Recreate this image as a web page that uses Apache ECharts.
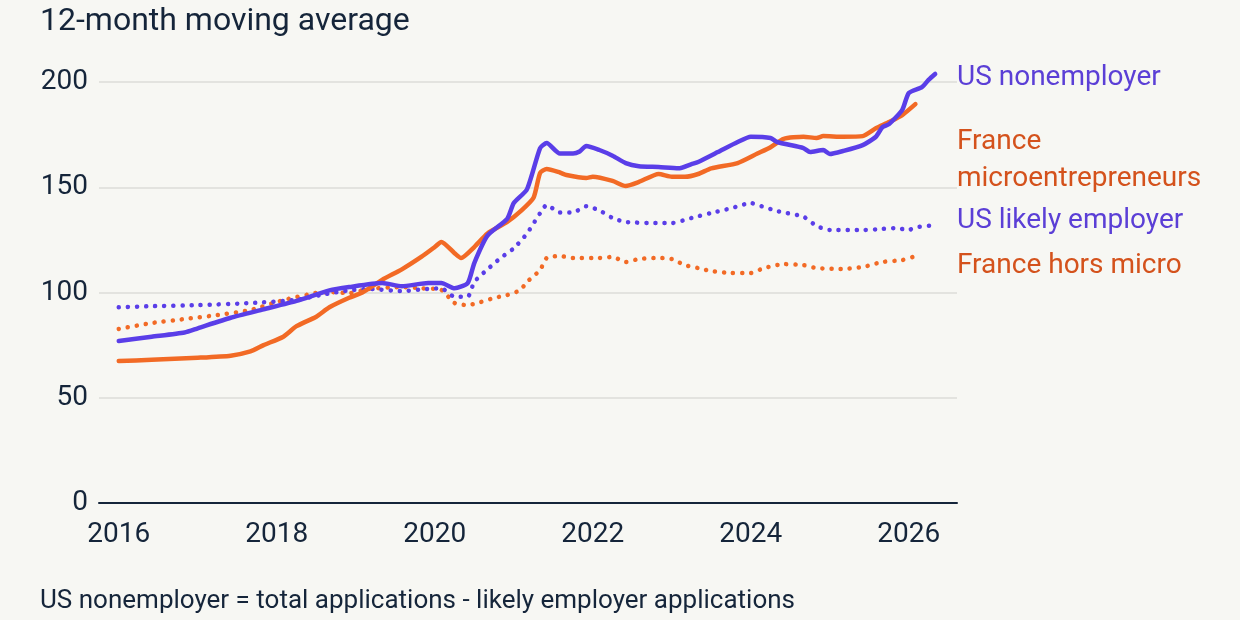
<!DOCTYPE html>
<html>
<head>
<meta charset="utf-8">
<script src="https://cdn.jsdelivr.net/npm/echarts@6/dist/echarts.min.js"></script>
<style>
  html, body { margin: 0; padding: 0; background: #f7f7f3; }
  #chart { width: 1240px; height: 620px; }
</style>
</head>
<body>
<div id="chart"></div>
<script>
// US nonemployer (solid purple)
var usNonDates = ['2016-01', '2016-06', '2016-11', '2017-01', '2017-06', '2017-11', '2018-04', '2018-09', '2018-12', '2019-05', '2019-08', '2019-12', '2020-02', '2020-04', '2020-06', '2020-07', '2020-09', '2020-12', '2021-01', '2021-03', '2021-05', '2021-06', '2021-08', '2021-10', '2021-11', '2021-12', '2022-02', '2022-04', '2022-06', '2022-08', '2022-11', '2023-02', '2023-04', '2023-05', '2023-08', '2023-11', '2024-01', '2024-04', '2024-05', '2024-09', '2024-10', '2024-12', '2025-01', '2025-03', '2025-06', '2025-08', '2025-09', '2025-10', '2025-12', '2026-01', '2026-03', '2026-04', '2026-05'];
var usNonValues = [77, 79, 81, 83, 88, 92, 96, 101, 102.6, 104.5, 103, 104.5, 104.5, 102, 104.5, 114, 127, 135, 142.5, 149, 168.6, 171, 166, 166, 167, 169.6, 167.7, 165, 161.5, 160, 159.6, 159, 161, 162, 166.7, 171.5, 174, 173.4, 171.5, 168.6, 166.7, 167.7, 165.8, 167.2, 170, 174, 178.6, 180, 186.7, 194.8, 197.6, 201, 203.8];

// France microentrepreneurs (solid orange)
var frMicroDates = ['2016-01', '2016-06', '2017-01', '2017-06', '2017-09', '2017-11', '2018-02', '2018-04', '2018-07', '2018-09', '2018-12', '2019-02', '2019-05', '2019-08', '2019-11', '2020-01', '2020-02', '2020-04', '2020-05', '2020-07', '2020-09', '2020-12', '2021-02', '2021-04', '2021-05', '2021-06', '2021-08', '2021-09', '2021-12', '2022-01', '2022-04', '2022-06', '2022-08', '2022-11', '2023-01', '2023-03', '2023-05', '2023-07', '2023-11', '2024-02', '2024-04', '2024-06', '2024-09', '2024-11', '2024-12', '2025-03', '2025-06', '2025-08', '2025-10', '2025-12', '2026-02'];
var frMicroValues = [67.5, 68, 69, 70, 72, 75, 79, 84, 88.5, 93, 97.5, 100, 106, 111, 117, 121.6, 124, 118.7, 116.4, 121.6, 128, 133.5, 138.5, 145, 156.8, 158.7, 157, 155.8, 154.4, 155, 153, 150.6, 152.5, 156.3, 155, 155, 156.3, 159, 161.5, 166, 169, 173, 174, 173.4, 174.3, 174, 174.3, 178, 181, 184.3, 189.5];

// US likely employer (dotted purple)
var usEmpDates = ['2016-01', '2016-06', '2017-01', '2017-09', '2018-04', '2018-08', '2018-12', '2019-03', '2019-08', '2019-12', '2020-02', '2020-04', '2020-06', '2020-07', '2020-09', '2020-11', '2021-01', '2021-03', '2021-05', '2021-06', '2021-08', '2021-10', '2021-12', '2022-02', '2022-04', '2022-06', '2022-11', '2023-01', '2023-04', '2023-07', '2023-10', '2024-01', '2024-02', '2024-05', '2024-09', '2024-11', '2025-01', '2025-06', '2025-09', '2025-11', '2026-01', '2026-02', '2026-05'];
var usEmpValues = [93, 93.5, 94, 95, 96.5, 99, 101, 101.7, 100.7, 101.7, 102, 98, 98, 105, 111, 116.4, 121, 128, 137.7, 141.6, 138, 138, 141, 139, 135.4, 133.5, 133, 133, 135.4, 137.8, 140, 142.5, 141.6, 138.7, 136, 131.6, 129.7, 129.7, 130.2, 130.6, 129.7, 131, 132];

// France hors micro (dotted orange)
var frHorsDates = ['2016-01', '2016-06', '2016-11', '2017-04', '2017-09', '2018-02', '2018-07', '2018-09', '2018-12', '2019-03', '2019-08', '2019-11', '2020-02', '2020-04', '2020-06', '2020-08', '2020-10', '2020-12', '2021-02', '2021-03', '2021-05', '2021-06', '2021-08', '2021-10', '2022-02', '2022-04', '2022-06', '2022-08', '2022-11', '2023-01', '2023-03', '2023-05', '2023-07', '2023-10', '2024-01', '2024-03', '2024-06', '2024-09', '2024-11', '2025-03', '2025-06', '2025-09', '2025-12', '2026-02'];
var frHorsValues = [82.7, 85.5, 87.4, 89.3, 91.7, 96.4, 99.8, 100.2, 99.7, 101.7, 102.6, 102, 101.2, 95, 94, 95.5, 97.4, 98.8, 101.2, 105, 110.7, 116.4, 117.3, 116.4, 116.4, 116.9, 114.5, 115.9, 116.4, 115.9, 113, 111.6, 110.2, 109.3, 109.3, 111.6, 113.5, 113, 111.6, 111.2, 112.1, 114.5, 115.4, 117.3];

var yearTicks = [2016, 2018, 2020, 2022, 2024, 2026];
var yTicks = [0, 50, 100, 150, 200];

var purple = '#5a3ee8';
var orange = '#f26a25';
var purpleText = '#5b3fd6';
var orangeText = '#d4521c';
var ink = '#15253a';

// '2018-04' -> 2018.25
function toYear(s) {
  var p = s.split('-');
  return Number(p[0]) + (Number(p[1]) - 1) / 12;
}
function pairs(dates, values) {
  return dates.map(function (d, i) {
    return [toYear(d), values[i]];
  });
}

var chart = echarts.init(document.getElementById('chart'));

var solid = function (color) {
  return { color: color, width: 4.5, cap: 'round', join: 'round' };
};
var dotted = function (color) {
  return { color: color, width: 4.5, type: [0.1, 9], cap: 'round' };
};

var option = {
  backgroundColor: '#f7f7f3',
  animation: false,
  textStyle: { fontFamily: 'Roboto' },
  grid: { left: 99, right: 283, top: 82, bottom: 117 },
  xAxis: {
    type: 'value',
    min: 2015.75,
    max: 2026.61,
    axisLine: { show: true, lineStyle: { color: ink, width: 2 } },
    axisTick: { show: false },
    splitLine: { show: false },
    axisLabel: {
      customValues: yearTicks,
      formatter: function (v) { return String(v); },
      color: ink,
      fontSize: 28,
      margin: 18
    }
  },
  yAxis: {
    type: 'value',
    min: 0,
    max: 200,
    interval: 50,
    axisLine: { show: false },
    axisTick: { show: false },
    splitLine: { lineStyle: { color: '#dcdcd8', width: 1.5 } },
    axisLabel: {
      customValues: yTicks,
      color: ink,
      fontSize: 28,
      margin: 11
    }
  },
  series: [
    {
      name: 'France hors micro',
      type: 'line',
      data: pairs(frHorsDates, frHorsValues),
      showSymbol: false,
      smooth: 0.2,
      clip: false,
      lineStyle: dotted(orange)
    },
    {
      name: 'US likely employer',
      type: 'line',
      data: pairs(usEmpDates, usEmpValues),
      showSymbol: false,
      smooth: 0.2,
      clip: false,
      lineStyle: dotted(purple)
    },
    {
      name: 'France microentrepreneurs',
      type: 'line',
      data: pairs(frMicroDates, frMicroValues),
      showSymbol: false,
      smooth: 0.2,
      clip: false,
      lineStyle: solid(orange)
    },
    {
      name: 'US nonemployer',
      type: 'line',
      data: pairs(usNonDates, usNonValues),
      showSymbol: false,
      smooth: 0.2,
      clip: false,
      lineStyle: solid(purple)
    }
  ],
  graphic: [
    { type: 'text', left: 40, top: 6, style: { text: '12-month moving average', fill: ink, font: '32px Roboto' } },
    { type: 'text', left: 40, top: 588, style: { text: 'US nonemployer = total applications - likely employer applications', fill: ink, font: '26px Roboto' } },
    { type: 'text', left: 957, top: 64, style: { text: 'US nonemployer', fill: purpleText, font: '28px Roboto' } },
    { type: 'text', left: 957, top: 128, style: { text: 'France', fill: orangeText, font: '28px Roboto' } },
    { type: 'text', left: 957, top: 165, style: { text: 'microentrepreneurs', fill: orangeText, font: '28px Roboto' } },
    { type: 'text', left: 957, top: 207, style: { text: 'US likely employer', fill: purpleText, font: '28px Roboto' } },
    { type: 'text', left: 957, top: 252, style: { text: 'France hors micro', fill: orangeText, font: '28px Roboto' } }
  ]
};

chart.setOption(option);
</script>
</body>
</html>
